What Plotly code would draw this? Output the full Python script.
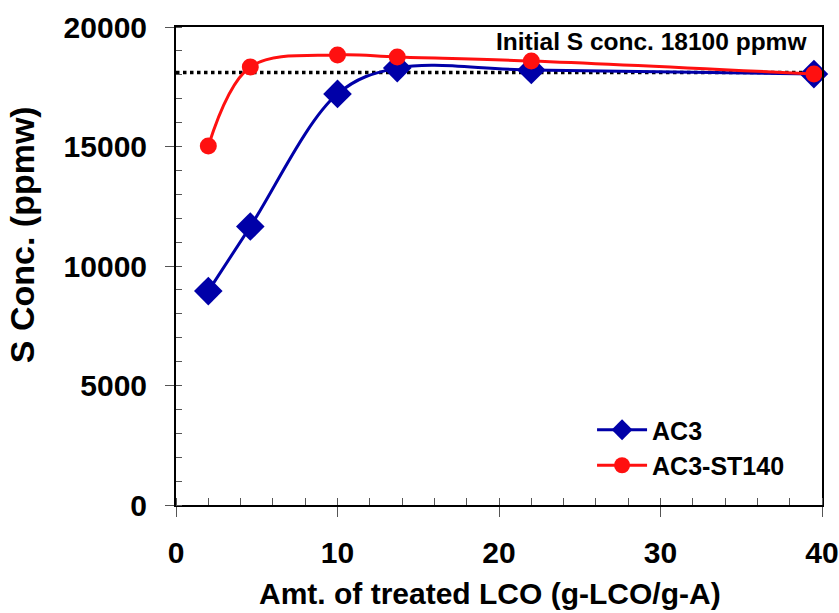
import plotly.graph_objects as go

x_vals = [2, 4.6, 10, 13.7, 22, 39.5]
ac3 = [8950, 11650, 17200, 18280, 18200, 18030]
ac3_st140 = [15020, 18330, 18830, 18740, 18580, 18030]
initial_s = 18100
x_ticks = [0, 10, 20, 30, 40]
y_ticks = [0, 5000, 10000, 15000, 20000]

FONT = "Liberation Sans, Arial, sans-serif"
PAD = '<span style="font-size:22px">\u00a0\u00a0</span>'

fig = go.Figure()
fig.add_trace(go.Scatter(
    x=[0, 40.3], y=[initial_s, initial_s], mode="lines",
    line=dict(color="black", width=3.5, dash="dot"),
    showlegend=False, hoverinfo="skip", cliponaxis=False))
fig.add_trace(go.Scatter(
    x=x_vals, y=ac3, name="AC3", mode="lines+markers",
    line=dict(color="#0000A8", width=3, shape="spline", smoothing=1),
    marker=dict(symbol="diamond", size=22, color="#0000A8"),
    cliponaxis=False))
fig.add_trace(go.Scatter(
    x=x_vals, y=ac3_st140, name="AC3-ST140", mode="lines+markers",
    line=dict(color="#FF1010", width=3, shape="spline", smoothing=1),
    marker=dict(symbol="circle", size=17, color="#FF1010"),
    cliponaxis=False))

fig.add_annotation(
    x=39.2, y=19380, xref="x", yref="y", text="Initial S conc. 18100 ppmw",
    showarrow=False, xanchor="right", yanchor="middle",
    font=dict(family=FONT, size=24.5, color="black", weight="bold"))

# axis titles as annotations (offset from plot centre as in the reference)
fig.add_annotation(
    x=0.486, y=-0.186, xref="paper", yref="paper", text="Amt. of treated LCO (g-LCO/g-A)",
    showarrow=False, xanchor="center", yanchor="middle",
    font=dict(family=FONT, size=30, color="black", weight="bold"))
fig.add_annotation(
    x=-0.238, y=0.565, xref="paper", yref="paper", text="S Conc. (ppmw)", textangle=-90,
    showarrow=False, xanchor="center", yanchor="middle",
    font=dict(family=FONT, size=34, color="black", weight="bold"))

fig.update_xaxes(
    range=[0, 40], tickvals=x_ticks, ticktext=[str(v) for v in x_ticks],
    ticks="outside", ticklen=10, tickwidth=1, ticklabelstandoff=10,
    tickcolor="#555", showline=True, linecolor="black", linewidth=1.5, mirror=True,
    showgrid=False, zeroline=False,
    tickfont=dict(family=FONT, size=30, color="black", weight="bold"),
    minor=dict(dtick=2, ticks="inside", ticklen=7, tickcolor="#555", tickwidth=1, showgrid=False))
fig.update_yaxes(
    range=[0, 20000], tickvals=y_ticks, ticktext=[str(v) + PAD for v in y_ticks],
    ticks="outside", ticklen=9, tickwidth=1,
    tickcolor="#555", showline=True, linecolor="black", linewidth=1.5, mirror=True,
    showgrid=False, zeroline=False,
    tickfont=dict(family=FONT, size=30, color="black", weight="bold"),
    minor=dict(dtick=1000, ticks="inside", ticklen=6, tickcolor="#555", tickwidth=1, showgrid=False))

fig.update_layout(
    width=839, height=613,
    margin=dict(l=176, r=17, t=27, b=108, autoexpand=False),
    paper_bgcolor="white", plot_bgcolor="white",
    legend=dict(x=0.949, y=0.205, xanchor="right", yanchor="top",
                bgcolor="rgba(0,0,0,0)", itemwidth=50, tracegroupgap=0,
                font=dict(family=FONT, size=25, color="black", weight="bold")),
)

fig.write_html("out.html")
